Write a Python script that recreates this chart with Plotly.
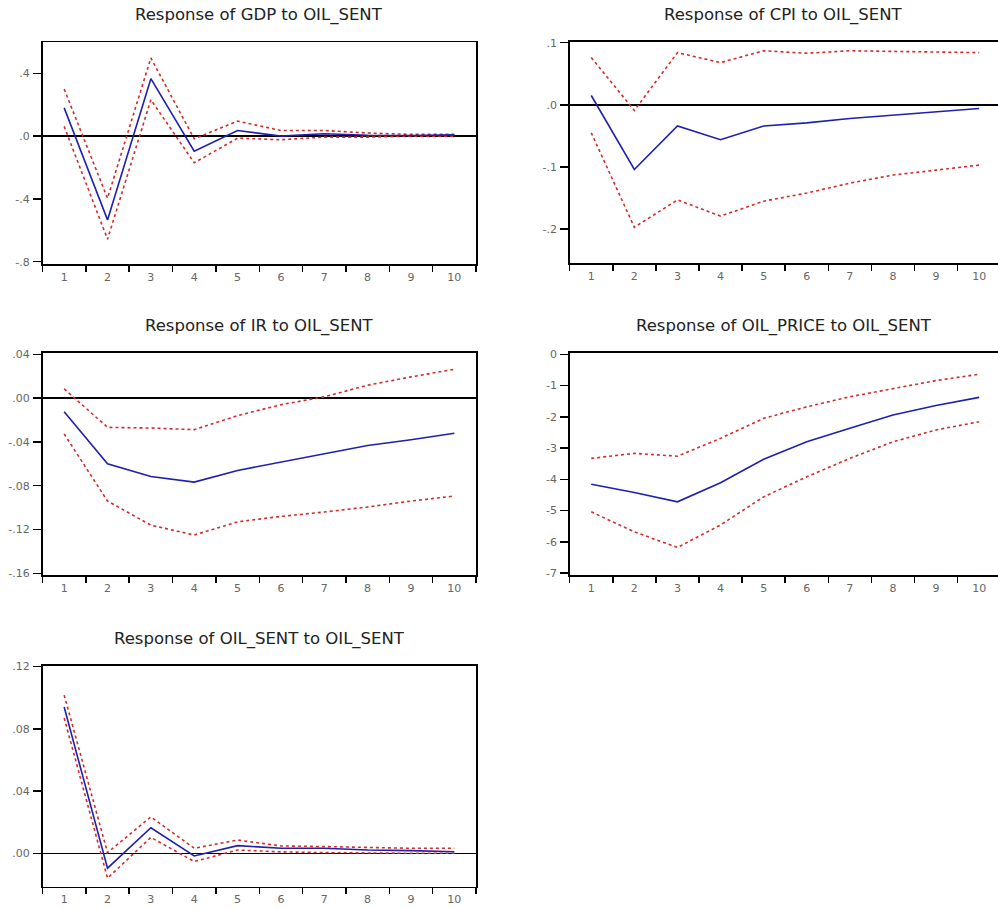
import plotly.graph_objects as go

periods = [1, 2, 3, 4, 5, 6, 7, 8, 9, 10]

titles = [
    "Response of GDP to OIL_SENT",
    "Response of CPI to OIL_SENT",
    "Response of IR to OIL_SENT",
    "Response of OIL_PRICE to OIL_SENT",
    "Response of OIL_SENT to OIL_SENT",
]

gdp_resp = [0.18, -0.534, 0.366, -0.096, 0.036, 0.0, 0.015, 0.006, 0.004, 0.008]
gdp_upper = [0.30, -0.396, 0.498, -0.017, 0.096, 0.036, 0.036, 0.02, 0.011, 0.011]
gdp_lower = [0.062, -0.657, 0.232, -0.17, -0.013, -0.023, -0.006, -0.006, 0.0, 0.0]

cpi_resp = [0.015, -0.104, -0.034, -0.056, -0.034, -0.029, -0.022, -0.017, -0.012, -0.006]
cpi_upper = [0.076, -0.009, 0.084, 0.068, 0.087, 0.083, 0.087, 0.086, 0.084, 0.084]
cpi_lower = [-0.045, -0.197, -0.153, -0.179, -0.155, -0.142, -0.126, -0.113, -0.105, -0.097]

ir_resp = [-0.0124, -0.060, -0.0715, -0.0767, -0.066, -0.0585, -0.051, -0.0433, -0.038, -0.032]
ir_upper = [0.0085, -0.0267, -0.0273, -0.0288, -0.016, -0.006, 0.0012, 0.0118, 0.0194, 0.0264]
ir_lower = [-0.0327, -0.094, -0.116, -0.125, -0.113, -0.108, -0.104, -0.0994, -0.094, -0.0894]

oilp_resp = [-4.16, -4.42, -4.72, -4.11, -3.36, -2.80, -2.37, -1.94, -1.64, -1.38]
oilp_upper = [-3.33, -3.17, -3.26, -2.69, -2.05, -1.68, -1.36, -1.09, -0.84, -0.64]
oilp_lower = [-5.04, -5.68, -6.18, -5.46, -4.56, -3.92, -3.33, -2.80, -2.42, -2.16]

oils_resp = [0.094, -0.0096, 0.0164, -0.0017, 0.0049, 0.0032, 0.0032, 0.0021, 0.0017, 0.001]
oils_upper = [0.1017, 0.0004, 0.0234, 0.0032, 0.0085, 0.0047, 0.0043, 0.0038, 0.0032, 0.0032]
oils_lower = [0.087, -0.016, 0.0102, -0.0053, 0.0021, 0.0009, 0.0004, 0.0, 0.0, 0.0]

ytick_vals = [
    [0.4, 0.0, -0.4, -0.8],
    [0.1, 0.0, -0.1, -0.2],
    [0.04, 0.0, -0.04, -0.08, -0.12, -0.16],
    [0, -1, -2, -3, -4, -5, -6, -7],
    [0.12, 0.08, 0.04, 0.0],
]
ytick_text = [
    [".4", ".0", "-.4", "-.8"],
    [".1", ".0", "-.1", "-.2"],
    [".04", ".00", "-.04", "-.08", "-.12", "-.16"],
    ["0", "-1", "-2", "-3", "-4", "-5", "-6", "-7"],
    [".12", ".08", ".04", ".00"],
]

series = [
    (gdp_resp, gdp_upper, gdp_lower),
    (cpi_resp, cpi_upper, cpi_lower),
    (ir_resp, ir_upper, ir_lower),
    (oilp_resp, oilp_upper, oilp_lower),
    (oils_resp, oils_upper, oils_lower),
]

# layout geometry (page pixels)
W, H = 998, 909
y_ranges = [[-0.815, 0.6], [-0.255, 0.1016], [-0.1618, 0.0415], [-7.07, 0.05], [-0.0215, 0.1206]]
x_px = [(42.5, 476.0), (569.7, 998.0), (42.5, 476.0), (569.7, 998.0), (42.5, 476.0)]
y_px = [(42.0, 264.0), (41.7, 263.3), (352.7, 575.3), (352.7, 575.3), (665.7, 886.7)]

fig = go.Figure()
layout = dict(
    width=W, height=H,
    margin=dict(l=0, r=0, t=0, b=0, autoexpand=False),
    paper_bgcolor="white", plot_bgcolor="white",
    showlegend=False,
    annotations=[],
)

tick_font = dict(family="DejaVu Sans", size=11, color="#666")

for i in range(5):
    n = "" if i == 0 else str(i + 1)
    xa = "x" + n
    ya = "y" + n
    resp, up, lo = series[i]
    for vals, col, dash in [(up, "#d42a2a", "3px,3px"), (lo, "#d42a2a", "3px,3px"), (resp, "#1f1fb0", "solid")]:
        fig.add_trace(go.Scatter(
            x=periods, y=vals, mode="lines", xaxis=xa, yaxis=ya,
            line=dict(color=col, width=1.6, dash=dash), hoverinfo="skip",
        ))
    x0, x1 = x_px[i]
    y0, y1 = y_px[i]
    per = 43.1
    xr_end = 0.5 + (x1 - x0) / per if x1 >= 997 else 10.5
    layout["xaxis" + n] = dict(
        domain=[x0 / W, x1 / W], anchor=ya, range=[0.5, xr_end],
        tickmode="array", tickvals=periods, ticktext=[str(p) for p in periods],
        ticks="", showgrid=False, zeroline=False,
        showline=True, linecolor="black", linewidth=1.5, mirror=True,
        tickfont=tick_font,
        ticklabelstandoff=2,
        minor=dict(tickmode="array", tickvals=[k + 0.5 for k in range(0, 11)],
                   ticks="outside", ticklen=6, tickwidth=1.5, tickcolor="black", showgrid=False),
    )
    layout["yaxis" + n] = dict(
        domain=[1 - y1 / H, 1 - y0 / H], anchor=xa, range=y_ranges[i],
        tickmode="array", tickvals=ytick_vals[i], ticktext=ytick_text[i],
        ticks="outside", ticklen=8, tickwidth=1.5, tickcolor="black",
        showgrid=False, zeroline=(i != 3), zerolinecolor="black", zerolinewidth=1.5,
        showline=True, linecolor="black", linewidth=1.5, mirror=True,
        tickfont=tick_font,
        ticklabelstandoff=1,
    )
    cx = (x0 + min(x1, 1001.5)) / 2
    layout["annotations"].append(dict(
        text=titles[i], xref="paper", yref="paper",
        x=cx / W, y=1 - (y0 - 27) / H, xanchor="center", yanchor="middle",
        showarrow=False, font=dict(family="DejaVu Sans", size=16.5, color="#222"),
    ))

fig.update_layout(**layout)
fig.write_html("out.html", config={"displayModeBar": False, "staticPlot": True},
               post_script="document.body.style.margin='0';")
